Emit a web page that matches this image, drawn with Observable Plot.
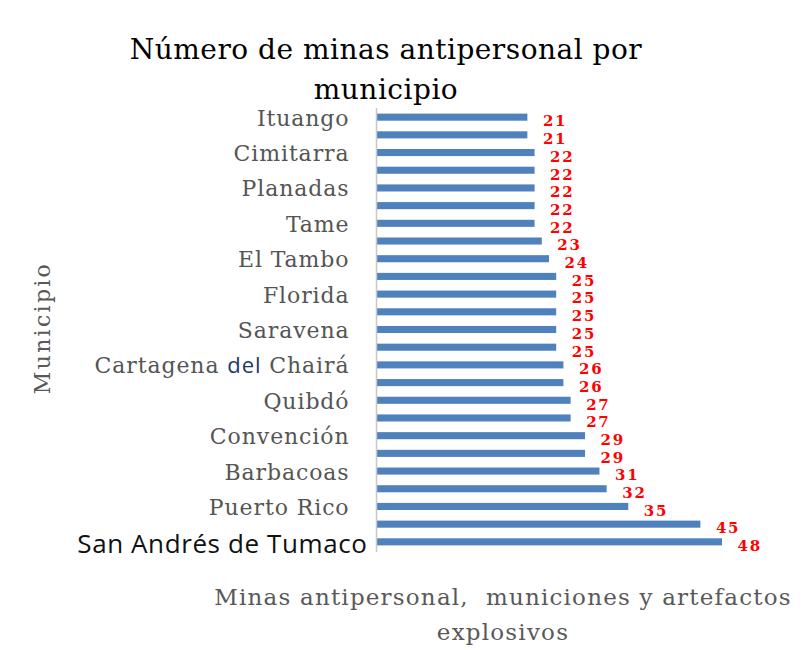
<!DOCTYPE html>
<html><head><meta charset="utf-8">
<script src="https://cdn.jsdelivr.net/npm/d3@7"></script>
<script src="https://cdn.jsdelivr.net/npm/@observablehq/plot@0.6"></script>
<style>
body{margin:0;background:#fff;}
#wrap{position:relative;width:803px;height:650px;}
#title{position:absolute;left:0;width:772px;top:30px;text-align:center;font-family:"DejaVu Serif",serif;font-size:28px;letter-spacing:0.5px;line-height:40px;color:#000;}
#xlab{position:absolute;left:203px;width:600px;top:580px;text-align:center;font-family:"DejaVu Serif",serif;font-size:23px;letter-spacing:1.2px;line-height:35px;color:#595959;white-space:nowrap;}
#ylab{position:absolute;left:42px;top:328px;transform:translate(-50%,-50%) rotate(-90deg);font-family:"DejaVu Serif",serif;font-size:22px;letter-spacing:2.3px;color:#595959;white-space:nowrap;}
#chart{position:absolute;left:0;top:0;}
</style></head>
<body><div id="wrap"><div id="chart"></div>
<div id="title">Número de minas antipersonal por<br>municipio</div>
<div id="ylab">Municipio</div>
<div id="xlab">Minas antipersonal,&nbsp; municiones y artefactos<br>explosivos</div>
</div>
<script>
const municipios = ["Ituango","","Cimitarra","","Planadas","","Tame","","El Tambo","","Florida","","Saravena","","Cartagena del Chairá","","Quibdó","","Convención","","Barbacoas","","Puerto Rico","","San Andrés de Tumaco"];
const minas = [21,21,22,22,22,22,22,23,24,25,25,25,25,25,26,26,27,27,29,29,31,32,35,45,48];
const data = municipios.map((m,i)=>({i, m, v: minas[i]}));
const order = data.map(d=>d.i);
const normal = data.filter(d=>d.m && d.m !== "San Andrés de Tumaco");
const special = data.filter(d=>d.m === "San Andrés de Tumaco");

const chart = Plot.plot({
  width: 803, height: 650,
  marginLeft: 376, marginRight: 81, marginTop: 103, marginBottom: 94,
  x: {domain: [0, 48], axis: null},
  y: {domain: order, axis: null, padding: 0.6, round: false},
  marks: [
    Plot.barX(data, {x: "v", y: "i", fill: "#4f81bd"}),
    Plot.ruleX([0], {stroke: "#c8c8c8", strokeWidth: 1.5, insetTop: 5, insetBottom: 4}),
    Plot.text(data, {x: "v", y: "i", text: d=>String(d.v), textAnchor: "start", dx: 15, dy: 4, fill: "#ff0000", fontWeight: "bold", fontSize: 15, fontFamily: "DejaVu Serif"}),
    Plot.text(normal, {x: 0, y: "i", text: "m", textAnchor: "end", dx: -27, dy: 1, fill: "#555555", fontSize: 22, fontFamily: "DejaVu Serif"}),
    Plot.text(special, {x: 0, y: "i", text: "m", textAnchor: "end", dx: -9, dy: 2, fill: "#111111", fontSize: 26, fontFamily: "Open Sans"})
  ]
});
document.getElementById("chart").appendChild(chart);
// letter spacing per text layer (values, municipios, Tumaco)
const spacing = [1.8, 0.9, 0.6];
chart.querySelectorAll('g[aria-label="text"]').forEach((g, k) => g.setAttribute("letter-spacing", spacing[k]));
// style "del" in Cartagena del Chairá like the reference
chart.querySelectorAll("text").forEach(t=>{
  if (t.textContent === "Cartagena del Chairá") {
    t.textContent = "";
    const ns = "http://www.w3.org/2000/svg";
    const parts = [["Cartagena ", null],["del", "#1f3864"],[" Chairá", null]];
    parts.forEach(([s,c])=>{
      const ts = document.createElementNS(ns,"tspan");
      ts.textContent = s;
      if (c) { ts.setAttribute("fill", c); ts.setAttribute("font-family","Open Sans"); }
      t.appendChild(ts);
    });
  }
});
</script>
</body></html>
